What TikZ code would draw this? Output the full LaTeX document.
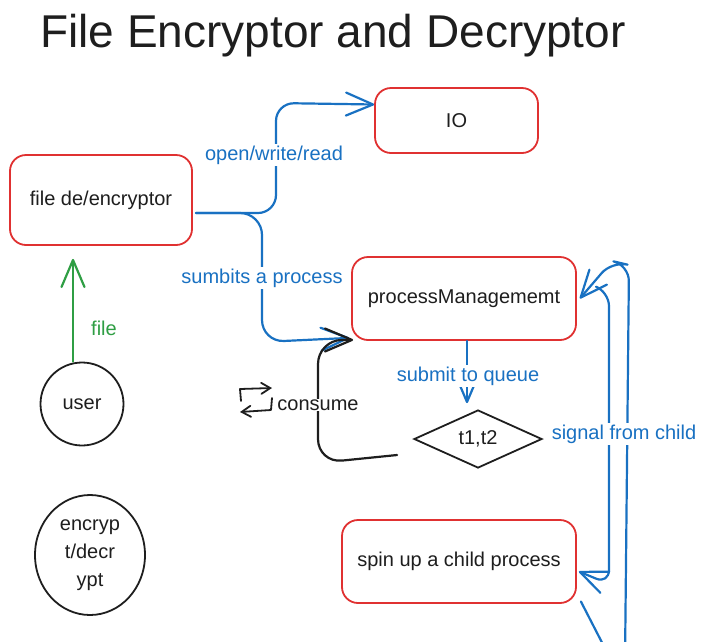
\documentclass[tikz,border=0pt]{standalone}
\usepackage{fontspec}
\setmainfont{Liberation Sans}
\usetikzlibrary{arrows.meta,shapes.geometric,calc}
\definecolor{exred}{HTML}{E03131}
\definecolor{exblue}{HTML}{1971C2}
\definecolor{exgreen}{HTML}{2F9E44}
\definecolor{exblack}{HTML}{1E1E1E}
\tikzset{
  txt/.style={font=\fontsize{20}{28}\selectfont, text=exblack, align=center},
  box/.style={txt, draw=exred, line width=1.8pt, rounded corners=16pt, fill=white, inner sep=0pt},
  blackshape/.style={txt, draw=exblack, line width=1.8pt, inner sep=0pt},
  arr/.style={line width=2.2pt, line cap=round, line join=round,
    -{Straight Barb[length=27pt,width=23pt,line cap=round,line join=round]}},
  bluearrow/.style={arr, draw=exblue},
  blackarrow/.style={arr, draw=exblack},
  greenarrow/.style={arr, draw=exgreen},
  smallarrow/.style={draw=exblack, line width=1.8pt, line cap=round, line join=round,
    -{Straight Barb[length=9pt,width=11pt,line cap=round]}},
  bluelabel/.style={font=\fontsize{20}{24}\selectfont, text=exblue, fill=white, inner sep=2pt},
  blacklabel/.style={font=\fontsize{20}{24}\selectfont, text=exblack, fill=white, inner sep=2pt},
}
\begin{document}
\begin{tikzpicture}[x=1pt,y=-1pt]
\useasboundingbox (0,0) rectangle (712,641);
\clip (0,0) rectangle (712,641);

% title
\node[font=\fontsize{46}{52}\selectfont, text=exblack] (title) at (333,36) {File Encryptor and Decryptor};

% nodes
\node[box, minimum width=182pt, minimum height=90pt] (fe) at (101,200) {file de/encryptor};
\node[box, minimum width=163pt, minimum height=65pt] (io) at (456.5,120.5) {IO};
\node[box, minimum width=224pt, minimum height=83pt] (pm) at (464,298.5) {processManagememt};
\node[blackshape, diamond, aspect=2.2, minimum width=128pt, minimum height=58pt] (dia) at (478,439) {t1,t2};
\node[box, minimum width=234pt, minimum height=83pt] (spin) at (459,561.5) {spin up a child process};
\node[blackshape, circle, minimum size=83pt] (user) at (82,404) {user};
\node[blackshape, ellipse, minimum width=110pt, minimum height=120pt] (enc) at (90,555) {encryp\\t/decr\\ypt};

% user -> file de/encryptor
\draw[greenarrow] ([xshift=-9pt]user.north) -- ([xshift=-28pt,yshift=-13pt]fe.south);
\node[font=\fontsize{20}{24}\selectfont, text=exgreen] (lfile) at (104,328) {file};

% file de/encryptor -> IO and -> processManagement
\coordinate (s) at ([shift={(3pt,-13pt)}]fe.east);
\draw[bluearrow, rounded corners=18pt] (s) -- (276,213) -- (276,103) -- ([yshift=16pt]io.west);
\draw[bluearrow, rounded corners=22pt] (s) -- (262,213) -- (262,342) -- ([shift={(-2pt,3pt)}]pm.south west);
\node[bluelabel] (lopen) at (274,155) {open/write/read};
\node[bluelabel] (lsub) at (262,278) {sumbits a process};

% processManagement -> queue
\draw[bluearrow] ([xshift=3pt]pm.south) -- ([xshift=-11pt,yshift=6pt]dia.north);
\node[bluelabel] (lqueue) at (468,376) {submit to queue};

% consume
\draw[blackarrow, rounded corners=24pt] ([shift={(-16pt,-16pt)}]dia.west) -- (318,463) -- (318,340) -- ([shift={(2pt,1pt)}]pm.south west);
\node[blacklabel, inner sep=1pt] (lcons) at (318,405) {consume};
\draw[smallarrow] (241,401) -- (240,389) -- (272,388);
\draw[smallarrow] (272,398) -- (271,410) -- (240,412);

% signals
\draw[bluearrow, rounded corners=14pt] ([shift={(21pt,11pt)}]pm.east) -- (609,292) -- (609,584) -- ([shift={(2pt,-10pt)}]spin.east);
\draw[bluearrow, rounded corners=16pt] ([shift={(4pt,-40pt)}]spin.east) -- (612,662) -- (625,662) -- (629,265) -- (612,261) -- ([xshift=3pt]pm.east);
\node[bluelabel] (lsig) at (624,434) {signal from child};
\end{tikzpicture}
\end{document}
